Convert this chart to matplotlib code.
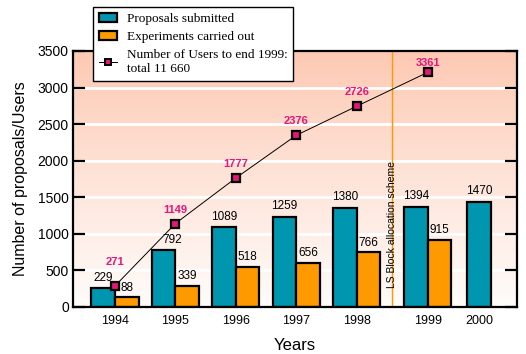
import matplotlib.pyplot as plt
import numpy as np
from matplotlib.colors import LinearSegmentedColormap
from matplotlib.lines import Line2D
from matplotlib.patches import Patch

years = ["1994", "1995", "1996", "1997", "1998", "1999", "2000"]

# printed values
proposals_lbl = [229, 792, 1089, 1259, 1380, 1394, 1470]
experiments_lbl = [88, 339, 518, 656, 766, 915]
users_lbl = [271, 1149, 1777, 2376, 2726, 3361]

# heights as actually drawn in the picture
proposals = [256, 781, 1096, 1237, 1360, 1374, 1442]
experiments = [133, 292, 552, 603, 749, 922]
users = [288, 1141, 1763, 2347, 2744, 3209]

plt.rcParams['font.family'] = ['Liberation Sans', 'DejaVu Sans']

teal = '#0096B0'
orange = '#FF9900'
pink = '#E8157A'

fig = plt.figure(figsize=(5.26, 3.54), dpi=100)
ax = fig.add_axes([73/526, 47/354, 444/526, 256/354])

xmin, xmax = -0.695, 6.656
centers = np.array([0, 1, 2, 3, 4, 5.18])
x2000 = 6.03
w = 0.39

# background gradient
cmap = LinearSegmentedColormap.from_list('bg', ['#FFFCFA', '#FEE4D9', '#FDC9B3'])
grad = np.linspace(0, 1, 256).reshape(-1, 1)
ax.imshow(grad, extent=[xmin, xmax, 0, 3500], origin='lower', aspect='auto',
          cmap=cmap, zorder=0)

for v in range(500, 3500, 500):
    ax.axhline(v, color='white', lw=2, zorder=1)

tx = list(centers - w/2) + [x2000]
ox = centers + w/2
ax.bar(tx, proposals, w, color=teal, edgecolor='black', lw=1.6, zorder=3)
ax.bar(ox, experiments, w, color=orange, edgecolor='black', lw=1.6, zorder=3)

nudge = [0, 6, 0, 0, 0, 0, 0]
for x, h, t, dx in zip(tx, proposals, proposals_lbl, nudge):
    ax.annotate(str(t), (x, h), xytext=(dx, 3), textcoords='offset points',
                ha='center', va='bottom', fontsize=8.5, zorder=5)
for x, h, t in zip(ox, experiments, experiments_lbl):
    ax.annotate(str(t), (x, h), xytext=(0, 2.5), textcoords='offset points',
                ha='center', va='bottom', fontsize=8.5, zorder=5)

ax.plot(centers, users, color='black', lw=0.7, marker='s', ms=6,
        mfc=pink, mec='black', mew=1.6, zorder=4)
unudge = [17, 10, 10, 10, 10, 7]
for x, h, t, dy in zip(centers, users, users_lbl, unudge):
    ax.annotate(str(t), (x, h), xytext=(0, dy), textcoords='offset points',
                ha='center', va='center', fontsize=8, fontweight='bold',
                color=pink, zorder=5)

# allocation scheme line
ax.axvline(4.59, color=orange, lw=1, zorder=2)
ax.text(4.59, 260, "LS Block allocation scheme", rotation=90, ha='center',
        va='bottom', fontsize=7.5, zorder=5)

ax.set_xlim(xmin, xmax)
ax.set_ylim(0, 3500)
ax.set_yticks(range(0, 3501, 500))
ax.set_xticks(list(centers) + [x2000])
ax.set_xticklabels(years)
ax.tick_params(axis='x', length=0, pad=6, labelsize=9)
ax.tick_params(axis='y', direction='in', length=8.5, width=1.6, right=True,
               labelsize=10, pad=3)
for s in ax.spines.values():
    s.set_linewidth(1.6)
    s.set_zorder(6)

ax.set_ylabel("Number of proposals/Users", fontsize=11.5, labelpad=7)
ax.set_xlabel("Years", fontsize=12, labelpad=8)

handles = [
    Patch(facecolor=teal, edgecolor='black', lw=1.6),
    Patch(facecolor=orange, edgecolor='black', lw=1.6),
    Line2D([], [], color='black', lw=0.7, marker='s', ms=5, mfc=pink,
           mec='black', mew=1.4),
]
labels = ["Proposals submitted", "Experiments carried out",
          "Number of Users to end 1999:\ntotal 11 660"]
leg = fig.legend(handles, labels, loc='upper left',
                 bbox_to_anchor=(93/526, 1 - 7/354), borderaxespad=0,
                 prop={'family': 'Liberation Serif', 'size': 9.5},
                 fancybox=False, framealpha=1, edgecolor='black',
                 handlelength=1.4, handletextpad=0.7, labelspacing=0.45,
                 borderpad=0.45)
leg.get_frame().set_linewidth(1)
leg.set_zorder(10)

fig.savefig("out.png", dpi=100)
